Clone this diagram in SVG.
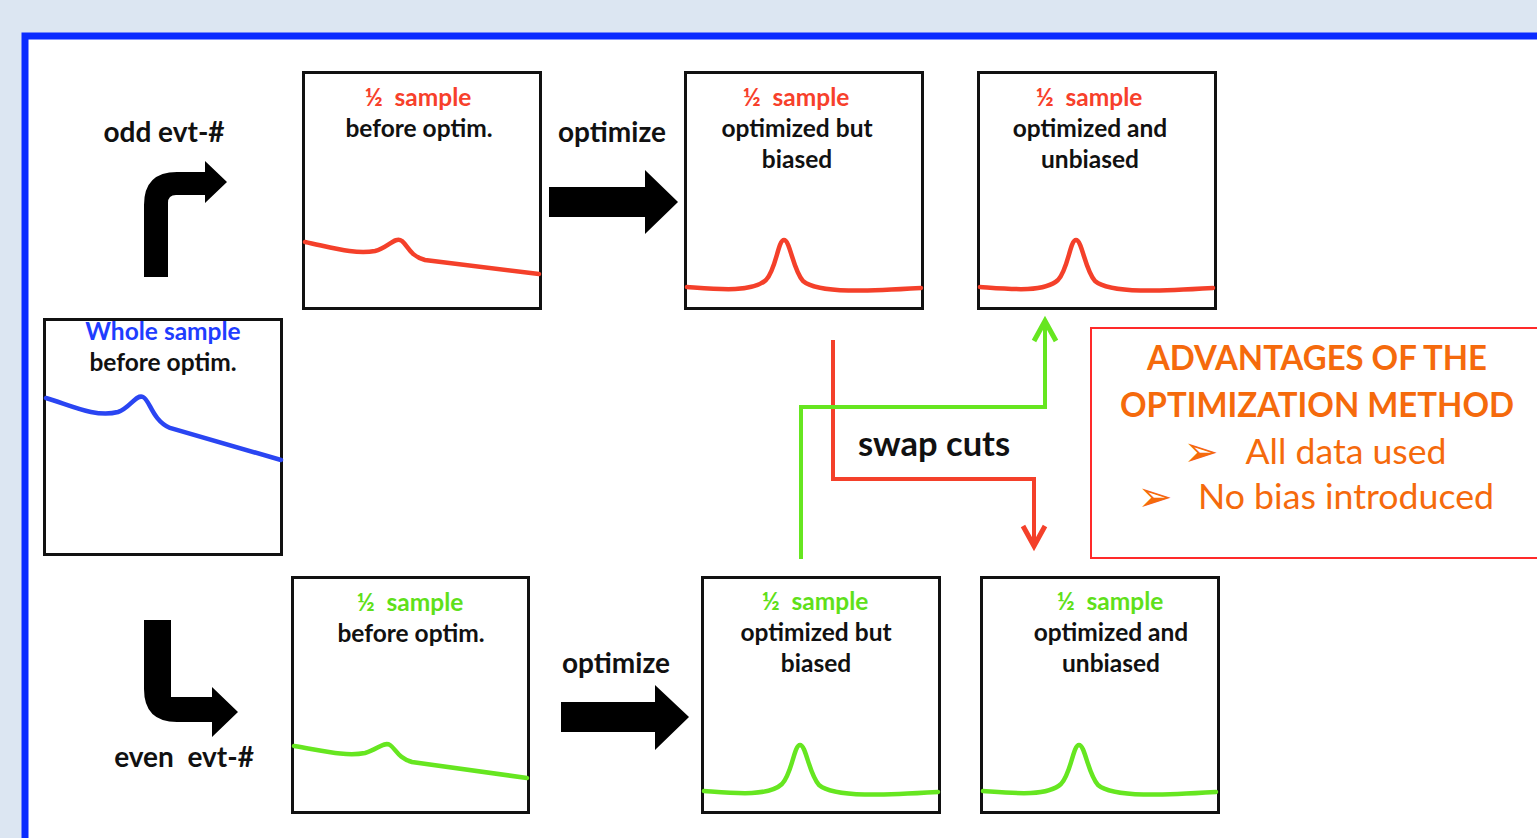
<svg xmlns="http://www.w3.org/2000/svg" width="1537" height="838" viewBox="0 0 1537 838">
<style>
.box{fill:#fff;stroke:#111;stroke-width:3}
.t{font-family:Lato,"Liberation Sans",sans-serif;font-weight:bold;font-size:24.5px;text-anchor:middle;fill:#111;white-space:pre}
.big{font-size:28px}
.sw{font-size:34.5px}
.red{fill:#F7402B}
.grn{fill:#5FE01A}
.blu{fill:#1F3DFF}
.cr{fill:none;stroke:#F4402A;stroke-width:4.5;stroke-linecap:round}
.cg{fill:none;stroke:#66E620;stroke-width:4.5;stroke-linecap:round}
.cb{fill:none;stroke:#2A45F2;stroke-width:4.5;stroke-linecap:round}
.adv{font-family:Lato,"Liberation Sans",sans-serif;font-size:34px;fill:#F56A0C;text-anchor:middle}
.bul{font-family:"DejaVu Sans",sans-serif;font-size:42px;fill:#F56A0C;text-anchor:middle}
</style>
<defs>
<marker id="hr" markerUnits="userSpaceOnUse" orient="auto" overflow="visible" markerWidth="30" markerHeight="30" refX="0" refY="0">
<path d="M-20,-11 L0,0 L-20,11" fill="none" stroke="#F4402A" stroke-width="5"/>
</marker>
<marker id="hg" markerUnits="userSpaceOnUse" orient="auto" overflow="visible" markerWidth="30" markerHeight="30" refX="0" refY="0">
<path d="M-20,-11 L0,0 L-20,11" fill="none" stroke="#66E620" stroke-width="5"/>
</marker>
</defs>
<rect x="0" y="0" width="1537" height="838" fill="#DCE6F2"/>
<rect x="25" y="36" width="1530" height="830" fill="#fff" stroke="#0A2BFF" stroke-width="7"/>

<g id="odd-label"><text class="t big" x="164" y="142">odd evt-#</text></g>
<g id="even-label"><text class="t big" x="184" y="767">even  evt-#</text></g>

<g id="whole">
<rect class="box" x="44.5" y="319.5" width="237" height="235"/>
<text class="t blu" x="163" y="340">Whole sample</text>
<text class="t" x="163" y="371">before optim.</text>
<path class="cb" d="M46,398 C70,405 95,418 118,412 C130,408 136,394 143,397 C150,400 152,420 170,428 L281,460"/>
</g>

<g id="odd-before">
<rect class="box" x="303.5" y="72.5" width="237" height="236"/>
<text class="t red" x="418" y="106">½  sample</text>
<text class="t" x="419" y="137">before optim.</text>
<path class="cr" d="M305,242 C330,247 355,255 375,251 C388,248 395,236 402,241 C408,246 410,256 425,260 L539,274"/>
</g>

<g id="odd-biased">
<rect class="box" x="685.5" y="72.5" width="237" height="236"/>
<text class="t red" x="796" y="106">½  sample</text>
<text class="t" x="797" y="137">optimized but</text>
<text class="t" x="797" y="168">biased</text>
<path class="cr" d="M687,287 C715,289 752,293 766,280 C776,270 778,240 784,240 C790,240 793,270 803,281 C818,294 870,291 921,288"/>
</g>

<g id="odd-unbiased">
<rect class="box" x="978.5" y="72.5" width="237" height="236"/>
<text class="t red" x="1089" y="106">½  sample</text>
<text class="t" x="1090" y="137">optimized and</text>
<text class="t" x="1090" y="168">unbiased</text>
<path class="cr" d="M980,287 C1008,289 1044,293 1058,280 C1068,270 1070,240 1076,240 C1082,240 1085,270 1095,281 C1110,294 1162,291 1213,288"/>
</g>

<g id="even-before">
<rect class="box" x="292.5" y="577.5" width="236" height="235"/>
<text class="t grn" x="410" y="611">½  sample</text>
<text class="t" x="411" y="642">before optim.</text>
<path class="cg" d="M294,746 C320,750 345,757 365,753 C377,750 384,741 390,745 C396,749 398,758 412,762 L527,778"/>
</g>

<g id="even-biased">
<rect class="box" x="702.5" y="577.5" width="237" height="235"/>
<text class="t grn" x="815" y="610">½  sample</text>
<text class="t" x="816" y="641">optimized but</text>
<text class="t" x="816" y="672">biased</text>
<path class="cg" d="M704,791 C732,793 768,797 782,784 C792,774 794,745 800,745 C806,745 809,774 819,785 C834,798 886,795 938,792"/>
</g>

<g id="even-unbiased">
<rect class="box" x="981.5" y="577.5" width="237" height="235"/>
<text class="t grn" x="1110" y="610">½  sample</text>
<text class="t" x="1111" y="641">optimized and</text>
<text class="t" x="1111" y="672">unbiased</text>
<path class="cg" d="M983,791 C1011,793 1047,797 1061,784 C1071,774 1073,745 1079,745 C1085,745 1088,774 1098,785 C1113,798 1165,795 1216,792"/>
</g>

<g id="advantages">
<rect x="1091" y="328" width="460" height="230" fill="#fff" stroke="#FF2A2A" stroke-width="2"/>
<text class="adv" x="1317" y="370" font-weight="bold" textLength="340" lengthAdjust="spacingAndGlyphs">ADVANTAGES OF THE</text>
<text class="adv" x="1317" y="417" font-weight="bold" textLength="394" lengthAdjust="spacingAndGlyphs">OPTIMIZATION METHOD</text>
<text class="bul" x="1201" y="466">➢</text>
<text class="adv" x="1346" y="464" textLength="201" lengthAdjust="spacingAndGlyphs">All data used</text>
<text class="bul" x="1155" y="511">➢</text>
<text class="adv" x="1346" y="509" textLength="296" lengthAdjust="spacingAndGlyphs">No bias introduced</text>
</g>

<g id="connectors">
<path d="M144,277 L144,205 Q144,172 177,172 L205,172 L205,161 L227,182 L205,203 L205,195 L176,195 Q168,195 168,203 L168,277 Z" fill="#000"/>
<path d="M144,620 L171,620 L171,697 L212,697 L212,687 L238,712 L212,737 L212,722 L177,722 Q144,722 144,689 Z" fill="#000"/>
<path d="M549,187 L645,187 L645,170 L678,202 L645,234 L645,217 L549,217 Z" fill="#000"/>
<text class="t big" x="612" y="142">optimize</text>
<path d="M561,702 L655,702 L655,685 L689,717 L655,750 L655,732 L561,732 Z" fill="#000"/>
<text class="t big" x="616" y="673">optimize</text>
<polyline points="833,340 833,479 1034,479 1034,546" fill="none" stroke="#F4402A" stroke-width="4" marker-end="url(#hr)"/>
<polyline points="801,559 801,407 1045,407 1045,321" fill="none" stroke="#66E620" stroke-width="4" marker-end="url(#hg)"/>
<text class="t sw" x="934" y="456">swap cuts</text>
</g>
</svg>
